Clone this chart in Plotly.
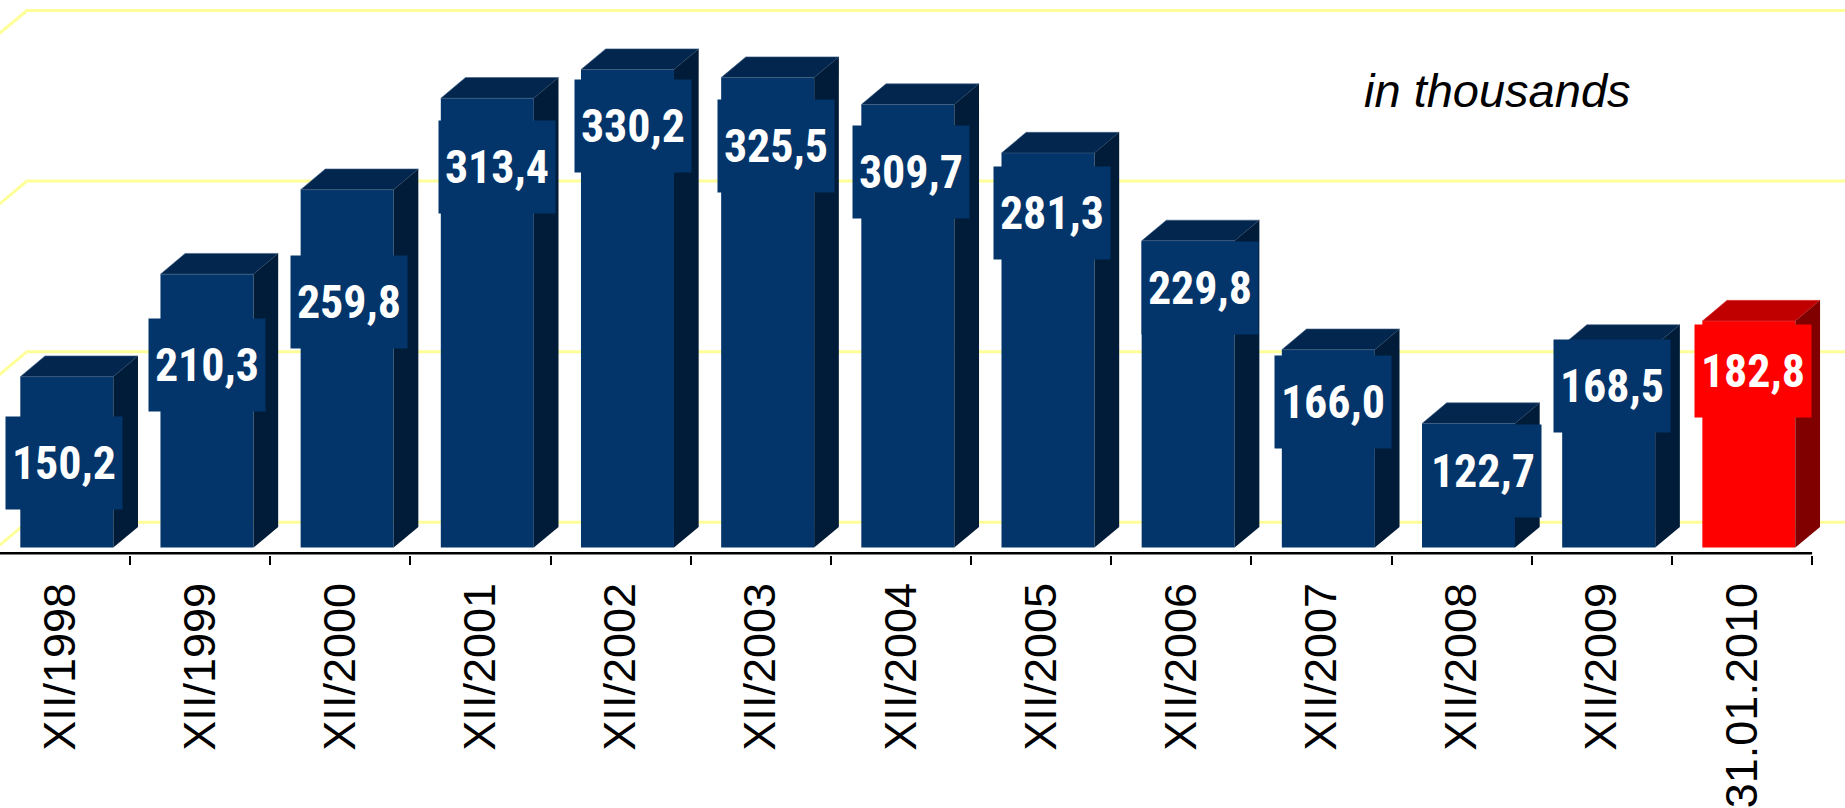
import plotly.graph_objects as go

# ---------------- data ----------------
categories = ["XII/1998", "XII/1999", "XII/2000", "XII/2001", "XII/2002", "XII/2003",
              "XII/2004", "XII/2005", "XII/2006", "XII/2007", "XII/2008", "XII/2009",
              "31.01.2010"]
values = [150.2, 210.3, 259.8, 313.4, 330.2, 325.5, 309.7, 281.3, 229.8, 166.0, 122.7, 168.5, 182.8]
value_text = ["150,2", "210,3", "259,8", "313,4", "330,2", "325,5", "309,7", "281,3",
              "229,8", "166,0", "122,7", "168,5", "182,8"]
highlight = [False] * 12 + [True]

# label placement (label-box centre): x offset from category (category units), y in axis units
label_dx = [0.03, 0.05, 0.06, 0.12, 0.09, 0.11, 0.07, 0.08, 0.13, 0.08, 0.15, 0.07, 0.08]
label_y = [103.0, 160.4, 197.3, 276.6, 300.6, 288.9, 273.6, 249.4, 205.8, 138.4, 98.4, 148.1, 156.6]

axis_min, axis_max, axis_step = 50, 350, 100

# ---------------- geometry / style ----------------
W, H = 1845, 808
PX_X = 140.17          # px per category
PX_Y = 1.706           # px per value unit
FLOOR_PX = 553.3       # px of the front floor edge
PLOT_BOTTOM_PX = 555.0
x0 = -60.0 / PX_X
x1 = (W - 60.0) / PX_X
y0 = axis_min - (PLOT_BOTTOM_PX - FLOOR_PX) / PX_Y
y1 = axis_min + FLOOR_PX / PX_Y

bar_shift_x = 6.8 / PX_X
bar_shift_y = 5.7 / PX_Y
bar_half = 46.5 / PX_X
depth_x = 24.7 / PX_X
depth_y = 20.7 / PX_Y
wall_x = 37.0 / PX_X
wall_y = 31.0 / PX_Y

BLUE_FRONT, BLUE_TOP, BLUE_SIDE = "#03356A", "#02264E", "#011C38"
RED_FRONT, RED_TOP, RED_SIDE = "#FF0000", "#C00000", "#800000"
GRID = "#FFFF99"

n = len(categories)
fig = go.Figure()

# back-wall gridlines (with left-wall diagonal), drawn beneath the bars
g = axis_min
while g <= axis_max:
    fig.add_shape(type="path", xref="x", yref="y", layer="below",
                  path=f"M {-0.5},{g} L {-0.5 + wall_x},{g + wall_y} L {n - 0.5 + wall_x},{g + wall_y}",
                  line=dict(color=GRID, width=3))
    g += axis_step

# bars (front, top and side faces as polygons)
base = axis_min + bar_shift_y
for i, v in enumerate(values):
    front, top, side = (RED_FRONT, RED_TOP, RED_SIDE) if highlight[i] else (BLUE_FRONT, BLUE_TOP, BLUE_SIDE)
    edge = "#E04040" if highlight[i] else "#3E5F84"
    xc = i + bar_shift_x
    xl, xr = xc - bar_half, xc + bar_half
    t = v + bar_shift_y
    fig.add_trace(go.Scatter(
        x=[xl, xr, xr, xl, xl], y=[base, base, t, t, base],
        mode="lines", fill="toself", fillcolor=front, line=dict(width=0),
        hoverinfo="skip", showlegend=False))
    fig.add_trace(go.Scatter(
        x=[xl, xr, xr + depth_x, xl + depth_x, xl],
        y=[t, t, t + depth_y, t + depth_y, t],
        mode="lines", fill="toself", fillcolor=top, line=dict(width=0.6, color=edge),
        hoverinfo="skip", showlegend=False))
    fig.add_trace(go.Scatter(
        x=[xr, xr, xr + depth_x, xr + depth_x, xr],
        y=[base, t, t + depth_y, base + depth_y, base],
        mode="lines", fill="toself", fillcolor=side, line=dict(width=0),
        hoverinfo="skip", showlegend=False))

# value label boxes
for i, v in enumerate(values):
    fig.add_annotation(
        x=i + label_dx[i], y=label_y[i], xref="x", yref="y",
        text=value_text[i], showarrow=False,
        width=116, height=92, borderpad=0,
        bgcolor=RED_FRONT if highlight[i] else BLUE_FRONT,
        font=dict(family="Liberation Sans Narrow, Arial Narrow, Roboto Condensed, Liberation Sans",
                  size=46, color="white", weight="bold"),
        align="center", valign="middle", xanchor="center", yanchor="middle")

# category axis line
fig.add_shape(type="line", x0=-0.5, x1=n - 0.5, y0=axis_min, y1=axis_min,
              xref="x", yref="y", line=dict(color="black", width=2.5))

fig.add_annotation(x=(1497 - 60) / PX_X, y=axis_min + (FLOOR_PX - 90) / PX_Y, xref="x", yref="y",
                   text="in thousands", showarrow=False,
                   font=dict(family="Liberation Sans, Arial", size=47, color="black", style="italic"),
                   xanchor="center", yanchor="middle")

fig.update_layout(
    width=W, height=H, margin=dict(l=0, r=0, t=0, b=H - PLOT_BOTTOM_PX),
    paper_bgcolor="white", plot_bgcolor="white",
    xaxis=dict(range=[x0, x1], tickmode="array", tickvals=list(range(n)), ticktext=categories,
               tickangle=-90, ticks="", showgrid=False, zeroline=False, showline=False,
               tickfont=dict(family="Liberation Sans, Arial", size=45, color="black"),
               ticklabelstandoff=18,
               minor=dict(tickmode="array", tickvals=[k + 0.5 for k in range(-1, n)],
                          ticks="outside", ticklen=9, tickwidth=2, tickcolor="black", showgrid=False)),
    yaxis=dict(range=[y0, y1], showticklabels=False, showgrid=False, zeroline=False, ticks="", showline=False),
)

fig.write_html("out.html", config={"displayModeBar": False},
               post_script="document.body.style.margin='0';document.body.style.overflow='hidden';")
